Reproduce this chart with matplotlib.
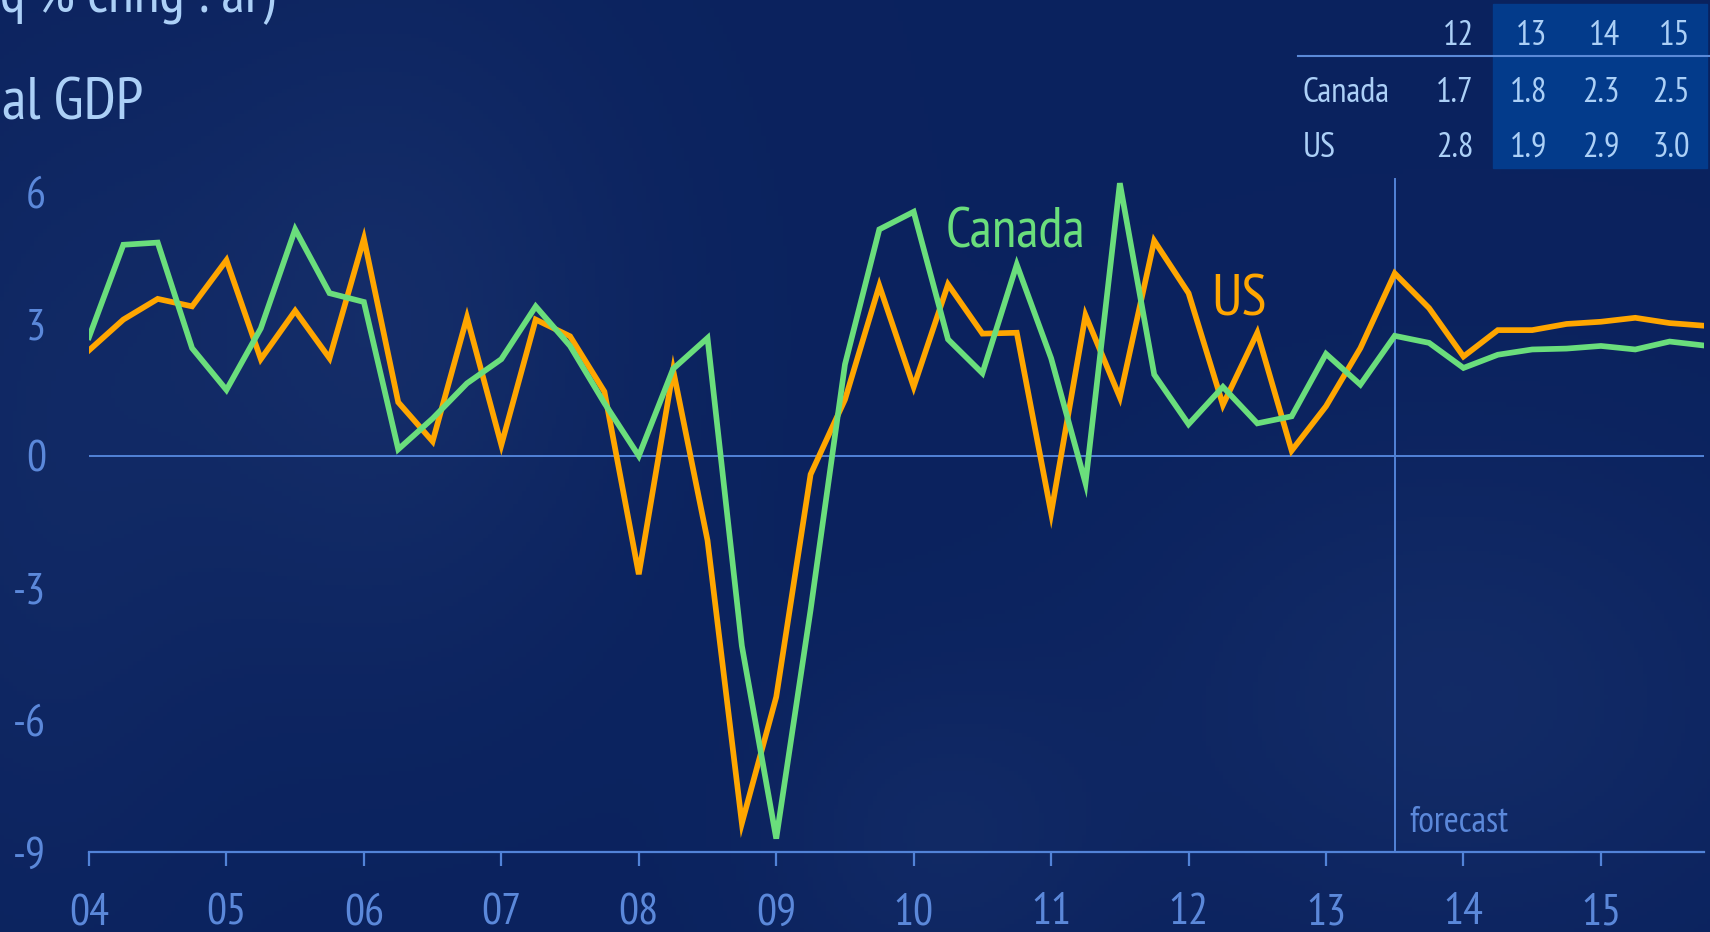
import numpy as np
import matplotlib
matplotlib.use('Agg')
import matplotlib.pyplot as plt
from matplotlib.patches import Rectangle
from matplotlib.lines import Line2D

plt.rcParams['font.family'] = ['PT Sans Narrow', 'DejaVu Sans']

# Quarterly real GDP growth, 2004Q1 - 2015Q4 (forecast from 2013Q3)
canada = [2.7, 4.8, 4.85, 2.45, 1.5, 2.9, 5.15, 3.7, 3.5, 0.15, 0.85, 1.65,
          2.2, 3.4, 2.5, 1.2, 0.0, 1.98, 2.68, -4.32, -8.7, -3.5, 2.08, 5.15,
          5.55, 2.65, 1.88, 4.35, 2.22, -0.62, 6.2, 1.85, 0.72, 1.57, 0.74, 0.9,
          2.32, 1.62, 2.73, 2.57, 2.0, 2.3, 2.42, 2.44, 2.5, 2.42, 2.6, 2.51]
us = [2.4, 3.1, 3.57, 3.4, 4.45, 2.2, 3.3, 2.22, 4.94, 1.22, 0.33, 3.15,
      0.25, 3.1, 2.72, 1.46, -2.69, 1.95, -1.92, -8.35, -5.48, -0.42, 1.28, 3.87,
      1.57, 3.9, 2.78, 2.8, -1.3, 3.2, 1.33, 4.89, 3.7, 1.16, 2.8, 0.12,
      1.13, 2.45, 4.15, 3.36, 2.26, 2.86, 2.86, 3.0, 3.05, 3.14, 3.02, 2.96]
forecast_start = 38
year_labels = ['04', '05', '06', '07', '08', '09', '10', '11', '12', '13', '14', '15']
y_ticks = [6, 3, 0, -3, -6, -9]

# Annual summary table
table_years = ['12', '13', '14', '15']
table_canada = ['1.7', '1.8', '2.3', '2.5']
table_us = ['2.8', '1.9', '2.9', '3.0']

W, H = 1710, 932
AXIS_BLUE = '#5283d8'
LABEL_BLUE = '#5b88da'
PALE = '#acd0f7'
GREEN = '#6ade7c'
ORANGE = '#ffa600'


def fx(x):
    return x / W


def fy(y):
    return 1 - y / H


fig = plt.figure(figsize=(W / 100, H / 100), dpi=100)

# soft navy background
bg = fig.add_axes([0, 0, 1, 1], zorder=-10)
gx, gy = np.meshgrid(np.linspace(0, 1, 400), np.linspace(0, 1, 220))
base = np.array([0.043, 0.135, 0.37])
light = np.array([0.11, 0.21, 0.44])
glow = (0.55 * np.exp(-((gx - 0.22) ** 2 / 0.02 + (gy - 0.35) ** 2 / 0.12))
        + 0.45 * np.exp(-((gx - 0.85) ** 2 / 0.03 + (gy - 0.75) ** 2 / 0.06))
        + 0.35 * np.exp(-((gx - 0.55) ** 2 / 0.01 + (gy - 0.9) ** 2 / 0.03))
        + 0.3 * np.exp(-((gx - 0.02) ** 2 / 0.01 + (gy - 0.5) ** 2 / 0.2)))
glow = np.clip(glow, 0, 1)[..., None]
bg.imshow(base * (1 - glow) + light * glow, aspect='auto', extent=[0, 1, 1, 0])
bg.set_xlim(0, 1)
bg.set_ylim(1, 0)
bg.axis('off')

ax_left, ax_right = 89, 1704
ax_bottom, ax_top = 851.8, 170.0
ax = fig.add_axes([fx(ax_left), fy(ax_bottom), (ax_right - ax_left) / W, (ax_bottom - ax_top) / H])
ax.patch.set_alpha(0)

x = np.arange(len(canada))
ax.plot(x, canada, color=GREEN, lw=4.1, solid_joinstyle='miter', zorder=4)
ax.plot(x, us, color=ORANGE, lw=4.1, solid_joinstyle='miter', zorder=3)

ax.axhline(0, color=AXIS_BLUE, lw=1.4, zorder=2)
ax.axvline(forecast_start, ymin=0, ymax=(6.3 + 9) / 15.5, color=AXIS_BLUE, lw=1.4, zorder=2)

ax.set_xlim(0, len(canada) - 1)
ax.set_ylim(-9, 6.5)
for side in ['top', 'right', 'left']:
    ax.spines[side].set_visible(False)
ax.spines['bottom'].set_color(AXIS_BLUE)
ax.spines['bottom'].set_linewidth(1.6)

ax.set_xticks(np.arange(0, len(canada), 4))
ax.set_xticklabels(year_labels)
ax.set_yticks(y_ticks)
ax.set_yticklabels([str(v) for v in y_ticks])
ax.tick_params(axis='x', direction='out', length=10, width=1.6, color=AXIS_BLUE,
               labelcolor=LABEL_BLUE, labelsize=32, pad=20)
ax.tick_params(axis='y', length=0, labelcolor=LABEL_BLUE, labelsize=32, pad=31)

# series labels and forecast marker
fig.text(fx(946), fy(248), 'Canada', color=GREEN, fontsize=40, va='baseline')
fig.text(fx(1211), fy(316), 'US', color=ORANGE, fontsize=42, va='baseline')
fig.text(fx(1409), fy(832), 'forecast', color=LABEL_BLUE, fontsize=26, va='baseline')

# titles, clipped by the figure edge
fig.text(fx(0), fy(12), 'q % chng : ar)', color=PALE, fontsize=42, va='baseline')
fig.text(fx(2), fy(120), 'al GDP', color=PALE, fontsize=44, va='baseline')

# summary table with forecast years highlighted
fig.patches.append(Rectangle((fx(1493), fy(168)), (1707 - 1493) / W, (168 - 4) / H,
                             transform=fig.transFigure, color='#033b8b', zorder=-5))
fig.lines.append(Line2D([fx(1298), fx(1710)], [fy(56), fy(56)], transform=fig.transFigure,
                        color='#5b8ad8', lw=1.5))
col_right = [1474, 1547, 1620, 1690]
for cx, yr, c, u in zip(col_right, table_years, table_canada, table_us):
    fig.text(fx(cx), fy(45), yr, color=PALE, fontsize=25, ha='right', va='baseline')
    fig.text(fx(cx), fy(102), c, color=PALE, fontsize=25, ha='right', va='baseline')
    fig.text(fx(cx), fy(157), u, color=PALE, fontsize=25, ha='right', va='baseline')
fig.text(fx(1303), fy(102), 'Canada', color=PALE, fontsize=25, va='baseline')
fig.text(fx(1303), fy(157), 'US', color=PALE, fontsize=25, va='baseline')

fig.savefig('out.png', dpi=100)
